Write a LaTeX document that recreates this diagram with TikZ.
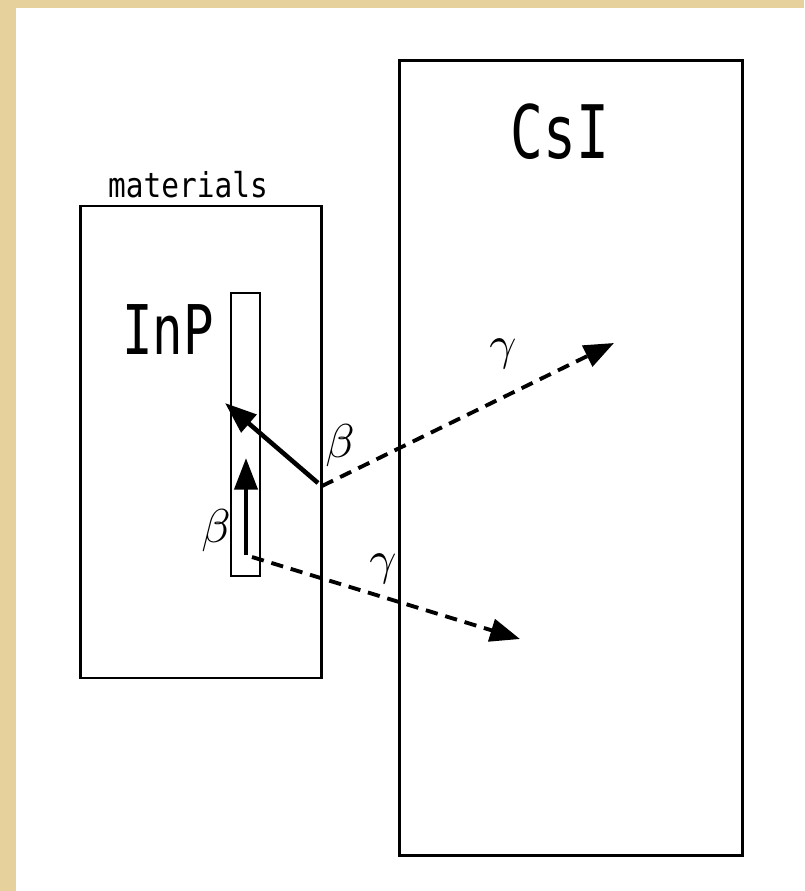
\documentclass[tikz,border=0pt]{standalone}
\usepackage{fontspec}
\usetikzlibrary{arrows.meta}
\newfontfamily\labelfont[FakeStretch=0.86]{DejaVu Sans Mono}
\newfontfamily\titlefont[FakeStretch=0.74]{DejaVu Sans Mono}
\definecolor{parchment}{RGB}{230,208,155}

\tikzset{
  box/.style={draw=black, line width=1.2pt, inner sep=0pt},
  beam/.style={line width=2.6pt, -{Triangle[length=18pt,width=13pt]}},
  photon/.style={line width=2.2pt, dash pattern=on 7pt off 4.5pt,
    -{Triangle[length=17pt,width=13pt]}},
  greek/.style={inner sep=0pt, scale=2.7},
}

\begin{document}
\begin{tikzpicture}[x=0.02cm,y=-0.02cm]
\useasboundingbox (0,0) rectangle (804,891);

% Background
\fill[parchment] (0,0) rectangle (804,891);
\fill[white] (16,8) rectangle (804,891);

% Detector and target boxes
\node[box, minimum width=343*0.02cm, minimum height=795*0.02cm]
  (csi) at (571,458) {};
\node[box, minimum width=241*0.02cm, minimum height=472*0.02cm]
  (mat) at (201,442) {};
\node[box, minimum width=29*0.02cm, minimum height=283*0.02cm]
  (inp) at (245.5,434.5) {};

% Labels
\node[inner sep=0pt, font=\labelfont\fontsize{19.5}{22}\selectfont]
  (matlabel) at (188,185) {materials};
\node[inner sep=0pt, font=\titlefont\fontsize{39}{44}\selectfont]
  (inplabel) at (168,330) {InP};
\node[inner sep=0pt, font=\titlefont\fontsize{42}{48}\selectfont]
  (csilabel) at (560,132) {CsI};

% Emission points and ends
\coordinate (b1s) at (318,483);
\coordinate (b1e) at (225,403);
\coordinate (b2s) at (246,555);
\coordinate (b2e) at (246,458);
\coordinate (g1s) at (322,486);
\coordinate (g1e) at (614,343);
\coordinate (g2s) at (252,557);
\coordinate (g2e) at (520,639);

% Beta tracks
\draw[beam] (b1s) -- (b1e);
\draw[beam] (b2s) -- (b2e);

% Gamma rays
\draw[photon] (g1s) -- (g1e);
\draw[photon] (g2s) -- (g2e);

\node[greek] (beta1) at (340,446) {$\beta$};
\node[greek] (beta2) at (216,531) {$\beta$};
\node[greek] (gamma1) at (503,354) {$\gamma$};
\node[greek] (gamma2) at (383,569) {$\gamma$};
\end{tikzpicture}
\end{document}
